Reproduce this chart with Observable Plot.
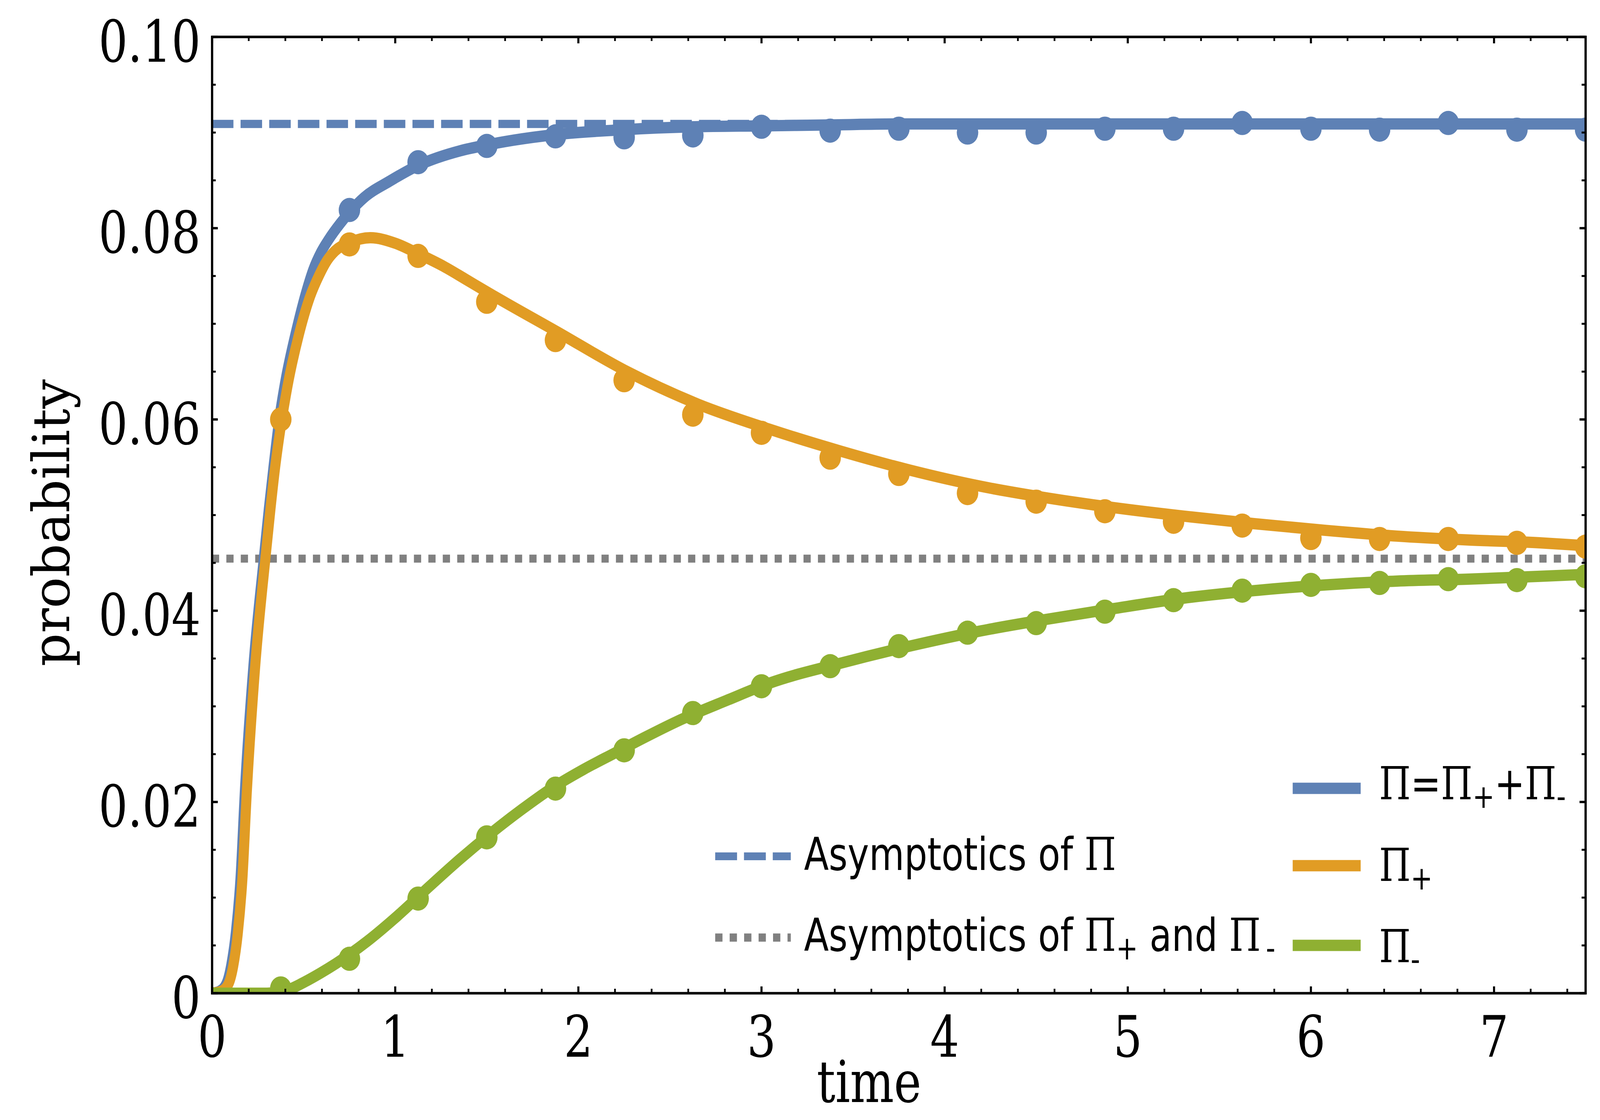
<!DOCTYPE html>
<html>
<head>
<meta charset="utf-8">
<script src="https://cdn.jsdelivr.net/npm/d3@7"></script>
<script src="https://cdn.jsdelivr.net/npm/@observablehq/plot@0.6"></script>
<style>
html,body{margin:0;padding:0;background:#fff;overflow:hidden;width:100%;height:100%}
#chart{position:fixed;left:0;top:0;width:100vw;height:100vh;overflow:hidden}
#chart svg{display:block;position:absolute;left:0;top:0}
</style>
</head>
<body>
<div id="chart"></div>
<script>
// ---------------- data ----------------
const xLabel = "time";
const yLabel = "probability";
const xTickLabels = [0, 1, 2, 3, 4, 5, 6, 7];
const yTickValues = [0, 0.02, 0.04, 0.06, 0.08, 0.10];
const yTickLabels = ["0", "0.02", "0.04", "0.06", "0.08", "0.10"];

// asymptotic levels
const asymptoteTotal = 0.0909;   // Asymptotics of Π
const asymptoteEach  = 0.04545;  // Asymptotics of Π+ and Π-

// sampled (simulation) points
const dotTimes    = [0.375, 0.75, 1.125, 1.5, 1.875, 2.25, 2.625, 3.0, 3.375, 3.75, 4.125, 4.5, 4.875, 5.25, 5.625, 6.0, 6.375, 6.75, 7.125, 7.5];
const piDots      = [null, 0.0819, 0.0869, 0.0886, 0.0896, 0.0895, 0.0897, 0.0906, 0.0902, 0.0904, 0.0900, 0.0900, 0.0904, 0.0904, 0.0910, 0.0904, 0.0903, 0.0910, 0.0903, 0.0903];
const piPlusDots  = [0.0600, 0.0783, 0.0771, 0.0723, 0.0683, 0.0641, 0.0605, 0.0586, 0.0560, 0.0543, 0.0523, 0.0514, 0.0504, 0.0493, 0.0489, 0.0476, 0.0475, 0.0475, 0.0471, 0.0467];
const piMinusDots = [0.0005, 0.0036, 0.0099, 0.0163, 0.0214, 0.0254, 0.0293, 0.0321, 0.0342, 0.0363, 0.0377, 0.0387, 0.0399, 0.0411, 0.0421, 0.0427, 0.0429, 0.0433, 0.0432, 0.0436];

// theoretical curves [time, probability]
const piCurve = [[0,0],[0.04,0.0002],[0.08,0.0011],[0.105,0.0030],[0.13,0.0064],[0.155,0.0120],[0.18,0.0215],[0.225,0.0341],[0.284,0.0458],[0.31,0.0507],[0.335,0.0550],[0.37,0.0605],[0.40,0.0640],[0.461,0.0694],[0.509,0.0730],[0.553,0.0757],[0.595,0.0775],[0.636,0.0788],[0.70,0.0805],[0.752,0.0817],[0.83,0.0832],[0.968,0.0849],[1.129,0.0866],[1.356,0.0881],[1.5,0.0887],[1.645,0.0892],[1.881,0.0898],[2.25,0.0903],[2.63,0.0906],[3.0,0.0907],[3.38,0.0908],[3.75,0.0909],[5.0,0.0909],[6.25,0.0909],[7.5,0.0909]];
const piPlusCurve = [[0,0],[0.05,0.0002],[0.09,0.0010],[0.115,0.0028],[0.14,0.0062],[0.165,0.0118],[0.19,0.0212],[0.235,0.0341],[0.294,0.0460],[0.318,0.0505],[0.343,0.0548],[0.381,0.0600],[0.411,0.0634],[0.473,0.0688],[0.534,0.0728],[0.585,0.0751],[0.627,0.0766],[0.67,0.0776],[0.752,0.0785],[0.864,0.0790],[1.004,0.0784],[1.129,0.0773],[1.265,0.0760],[1.381,0.0747],[1.495,0.0734],[1.881,0.0692],[2.267,0.0650],[2.653,0.0616],[3.04,0.0590],[3.43,0.0567],[3.81,0.0547],[4.2,0.0530],[4.525,0.0519],[4.915,0.0508],[5.30,0.0499],[5.69,0.0491],[6.08,0.0484],[6.47,0.0478],[6.86,0.0474],[7.25,0.0471],[7.5,0.0468]];
const piMinusCurve = [[0,0],[0.3,0],[0.42,0.0004],[0.507,0.0012],[0.591,0.0021],[0.676,0.0031],[0.845,0.0054],[1.013,0.0081],[1.183,0.0111],[1.352,0.0140],[1.521,0.0167],[1.69,0.0192],[1.86,0.0215],[2.028,0.0234],[2.197,0.0251],[2.367,0.0268],[2.536,0.0284],[2.82,0.0307],[3.04,0.0324],[3.43,0.0345],[3.81,0.0363],[4.2,0.0379],[4.525,0.0390],[4.915,0.0402],[5.30,0.0413],[5.69,0.0421],[6.08,0.0427],[6.47,0.0431],[6.86,0.0433],[7.25,0.0436],[7.5,0.0438]];

// legend labels (parts: [text, role]) role: "" normal, "P" Π glyph, "s" subscript
const legendLeft = [
  [["Asymptotics of ",""],["Π","P"]],
  [["Asymptotics of ",""],["Π","P"],["+","s"],[" and ",""],["Π","P"],["\u2009-","s"]]
];
const legendRight = [
  [["Π","P"],["=",""],["Π","P"],["+","s"],["+",""],["Π","P"],["-","s"]],
  [["Π","P"],["+","s"]],
  [["Π","P"],["-","s"]]
];

// ---------------- styling / layout ----------------
const blue = "#5E81B5", orange = "#E19C24", green = "#8FB032", gray = "#808080";
const W = 4613, H = 2867;
const mL = 611, mR = 42, mT = 94, mB = 325;
const fW = W - mL - mR, fH = H - mT - mB;
const serif = "'DejaVu Serif Condensed','DejaVu Serif',serif";
const sans = "'DejaVu Sans Condensed','DejaVu Sans',sans-serif";

const xMinor = d3.range(0, 7.5001, 0.2).filter(v => Math.abs(v - Math.round(v)) > 1e-6);
const yMinor = d3.range(0, 0.1001, 0.005).filter(v => Math.abs(v / 0.02 - Math.round(v / 0.02)) > 1e-6);

const dotsFor = (vals) => dotTimes.map((t, i) => ({t, v: vals[i]})).filter(d => d.v != null);

const chart = Plot.plot({
  width: W,
  height: H,
  marginLeft: mL, marginRight: mR, marginTop: mT, marginBottom: mB,
  x: {domain: [0, 7.5], axis: null},
  y: {domain: [0, 0.1], axis: null},
  style: {fontFamily: serif, fontStretch: "condensed", background: "white", color: "black"},
  marks: [
    Plot.ruleY([asymptoteTotal], {y: d => d, stroke: blue, strokeWidth: 21, strokeDasharray: "62,20.6"}),
    Plot.ruleY([asymptoteEach], {y: d => d, stroke: gray, strokeWidth: 20.5, strokeDasharray: "20.8,20.8"}),
    Plot.line(piCurve, {x: d => d[0], y: d => d[1], stroke: blue, strokeWidth: 29, curve: "monotone-x", clip: true}),
    Plot.line(piPlusCurve, {x: d => d[0], y: d => d[1], stroke: orange, strokeWidth: 29, curve: "monotone-x", clip: true}),
    Plot.line(piMinusCurve, {x: d => d[0], y: d => d[1], stroke: green, strokeWidth: 29, curve: "monotone-x", clip: true}),
    Plot.dot(dotsFor(piDots), {x: "t", y: "v", r: 31, fill: blue, clip: true}),
    Plot.dot(dotsFor(piPlusDots), {x: "t", y: "v", r: 31, fill: orange, clip: true}),
    Plot.dot(dotsFor(piMinusDots), {x: "t", y: "v", r: 31, fill: green, clip: true}),
    // frame ticks (inward, all four sides)
    Plot.tickX(xTickLabels, {x: d => d, insetTop: fH - 17, strokeWidth: 6, stroke: "black"}),
    Plot.tickX(xTickLabels, {x: d => d, insetBottom: fH - 17, strokeWidth: 6, stroke: "black"}),
    Plot.tickX(xMinor, {x: d => d, insetTop: fH - 11, strokeWidth: 5, stroke: "black"}),
    Plot.tickX(xMinor, {x: d => d, insetBottom: fH - 11, strokeWidth: 5, stroke: "black"}),
    Plot.tickY(yTickValues, {y: d => d, insetRight: fW - 17, strokeWidth: 6, stroke: "black"}),
    Plot.tickY(yTickValues, {y: d => d, insetLeft: fW - 17, strokeWidth: 6, stroke: "black"}),
    Plot.tickY(yMinor, {y: d => d, insetRight: fW - 11, strokeWidth: 5, stroke: "black"}),
    Plot.tickY(yMinor, {y: d => d, insetLeft: fW - 11, strokeWidth: 5, stroke: "black"}),
    Plot.frame({stroke: "black", strokeWidth: 6.5}),
    // tick labels
    Plot.text(xTickLabels, {x: d => d, text: d => String(d), frameAnchor: "bottom", lineAnchor: "top", dy: 59, fontSize: 146, fill: "black"}),
    Plot.text(yTickValues, {y: d => d, text: (d, i) => yTickLabels[i], frameAnchor: "left", textAnchor: "end", dx: -33, dy: 16, fontSize: 147, fill: "black"}),
    // axis labels
    Plot.text([xLabel], {text: d => d, frameAnchor: "bottom", lineAnchor: "bottom", dx: -86, dy: 278, fontSize: 148, fill: "black"}),
    Plot.text([yLabel], {text: d => d, frameAnchor: "left", rotate: -90, lineAnchor: "bottom", textAnchor: "middle", dx: -412, dy: 20, fontSize: 148, fill: "black"})
  ]
});
// scale the whole drawing to the window (the drawing is laid out on a 4613x2867 canvas)
chart.setAttribute("viewBox", `0 0 ${W} ${H}`);
chart.setAttribute("preserveAspectRatio", "none");
chart.style.width = "100vw";
chart.style.height = "100vh";
chart.style.maxWidth = "none";
document.getElementById("chart").appendChild(chart);

// ---------------- legend (inside the frame) ----------------
const svg = d3.select(chart);
const lg = svg.append("g")
  .attr("font-family", sans)
  .attr("text-anchor", "start")
  .style("font-stretch", "condensed")
  .attr("font-size", 116)
  .attr("fill", "black");

function richText(g, x, y, parts) {
  const t = g.append("text").attr("x", x).attr("y", y).attr("text-anchor", "start").style("white-space", "pre");
  let shifted = false;
  for (const [s, role] of parts) {
    const ts = t.append("tspan").text(s);
    if (role === "s") {
      ts.attr("font-size", 84).attr("dy", shifted ? 0 : 22);
      shifted = true;
    } else {
      if (shifted) { ts.attr("dy", -22); shifted = false; }
      if (role === "P") ts.attr("font-family", serif);
    }
  }
}

// left column
const leftRowsY = [2192, 2400];
const leftBase = [2227, 2434];
lg.append("line").attr("x1", 2062).attr("x2", 2280).attr("y1", leftRowsY[0]).attr("y2", leftRowsY[0])
  .attr("stroke", blue).attr("stroke-width", 20).attr("stroke-dasharray", "63,20");
lg.append("line").attr("x1", 2062).attr("x2", 2280).attr("y1", leftRowsY[1]).attr("y2", leftRowsY[1])
  .attr("stroke", gray).attr("stroke-width", 21).attr("stroke-dasharray", "21,20.7");
legendLeft.forEach((parts, i) => richText(lg, 2318, leftBase[i], parts));

// right column
const rightRowsY = [2018, 2216, 2420];
const rightBase = [2046, 2255, 2463];
const rightColors = [blue, orange, green];
rightColors.forEach((c, i) => {
  lg.append("line").attr("x1", 3727).attr("x2", 3923).attr("y1", rightRowsY[i]).attr("y2", rightRowsY[i])
    .attr("stroke", c).attr("stroke-width", 29);
});
legendRight.forEach((parts, i) => richText(lg, 3976, rightBase[i], parts));
</script>
</body>
</html>
